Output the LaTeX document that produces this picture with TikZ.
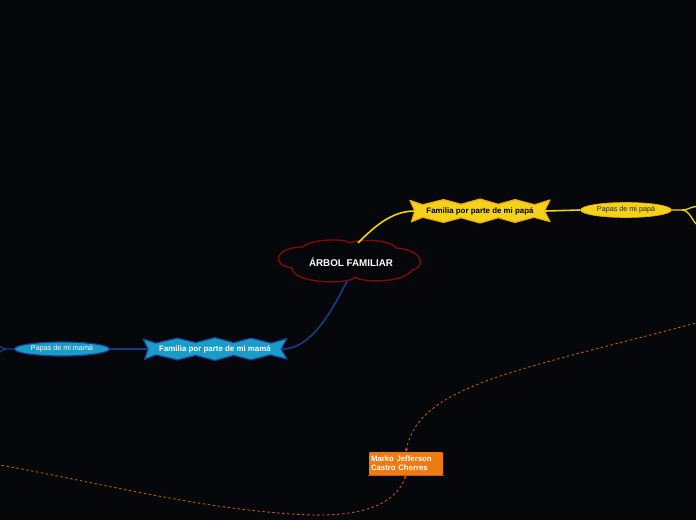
\documentclass[tikz,border=0pt]{standalone}
\usepackage{fontspec}
\setmainfont{Liberation Sans}
\usetikzlibrary{shapes.geometric,arrows.meta}
\definecolor{bg}{HTML}{05070A}
\definecolor{cloudred}{HTML}{7E0B0B}
\definecolor{yfill}{HTML}{F2D21A}
\definecolor{yedge}{HTML}{F0A812}
\definecolor{yline}{HTML}{F2D40C}
\definecolor{bfill}{HTML}{1A9CC8}
\definecolor{bedge}{HTML}{1E3C8C}
\definecolor{bline}{HTML}{1C3A88}
\definecolor{ofill}{HTML}{EE7A12}
\definecolor{odark}{HTML}{B85E0C}
% jagged burst: #1 centre, #2 half width, #3 half height, #4 path style
\newcommand\jagshape[4]{%
  \begin{scope}[shift={(#1)}, xscale=#2, yscale=#3]
    \path[#4] (-1,-0.88) -- (-0.82,-0.52) -- (-0.52,-0.95) -- (-0.27,-0.56) -- (0,-1)
      -- (0.26,-0.56) -- (0.5,-0.95) -- (0.78,-0.52) -- (1,-0.92) -- (0.92,0)
      -- (1,0.88) -- (0.77,0.52) -- (0.5,0.95) -- (0.26,0.56) -- (0,1)
      -- (-0.27,0.56) -- (-0.52,0.95) -- (-0.82,0.52) -- (-0.98,0.9) -- (-0.93,0) -- cycle;
  \end{scope}}
\begin{document}
\begin{tikzpicture}[x=1pt,y=-1pt,
  ytxt/.style={rectangle, inner sep=0pt, minimum width=130pt, minimum height=24pt, text=black, font=\bfseries\fontsize{7.9}{9}\selectfont},
  btxt/.style={rectangle, inner sep=0pt, minimum width=134pt, minimum height=22pt, text=white, font=\bfseries\fontsize{7.9}{9}\selectfont},
  yburst/.style={fill=yfill, draw=yedge, line width=1.2pt, line join=round},
  bburst/.style={fill=bfill, draw=bedge, line width=1.2pt, line join=round},
  yell/.style={ellipse, fill=yfill, draw=yedge, line width=0.6pt, inner sep=0pt, minimum width=91pt, minimum height=15pt, text=black!85, font=\fontsize{7.2}{8}\selectfont},
  bell/.style={ellipse, fill=bfill, draw=bedge, line width=1.2pt, inner sep=0pt, minimum width=95pt, minimum height=14pt, text=white, font=\fontsize{7.2}{8}\selectfont},
  ycon/.style={draw=yline, line width=1.6pt},
  bcon/.style={draw=bline, line width=1.6pt},
  rel/.style={draw=odark, line width=0.9pt, dash pattern=on 2.5pt off 2.5pt},
  cloudline/.style={draw=cloudred, line width=1.4pt, fill=bg},
]
\fill[bg] (0,0) rectangle (696,520);
\useasboundingbox (0,0) rectangle (696,520);

% cloud outline
\coordinate (J1) at (303,247);
\coordinate (J2) at (350,243);
\coordinate (J3) at (396,248);
\coordinate (J4) at (412,270);
\coordinate (J5) at (355,277);
\coordinate (J6) at (292,268);
\path[cloudline] (J1) .. controls (310,239) and (345,238) .. (J2)
  .. controls (356,239) and (391,239) .. (J3)
  .. controls (425,250) and (425,268) .. (J4)
  .. controls (405,283) and (362,283) .. (J5)
  .. controls (350,285) and (292,284) .. (J6)
  .. controls (270,265) and (275,247) .. cycle;

\node[ellipse, inner sep=0pt, minimum width=138pt, minimum height=38pt, text=white,
  font=\bfseries\fontsize{9.8}{11}\selectfont] (root) at (351,262) {ÁRBOL FAMILIAR};

\jagshape{480,211}{70}{12}{yburst}
\node[ytxt] (fp) at (480,211) {Familia por parte de mi papá};
\node[yell] (pp) at (626,210) {Papas de mi papá};
\jagshape{215,349}{72}{11.5}{bburst}
\node[btxt] (fm) at (215,349) {Familia por parte de mi mamá};
\node[bell] (pm) at (62,349) {Papas de mi mamá};

\node[rectangle, rounded corners=1pt, fill=ofill, text=white, align=left, inner sep=0pt,
  minimum width=74pt, minimum height=23pt, text width=70pt,
  font=\bfseries\fontsize{7.8}{9}\selectfont] (mk) at (406,463.5) {Marko Jefferson\\Castro Cherres};
\coordinate (mkl) at ([xshift=-1pt]mk.south west);
\coordinate (mkr) at ([xshift=1pt]mk.south east);
\draw[odark, line width=1.4pt] (mkl) -- (mkr);

\coordinate (ppb) at (682,210);
\coordinate (ppo1) at (696,206.5);
\coordinate (ppo2) at (696,224);
\coordinate (pmb) at (6,349);
\coordinate (pmo1) at (0,346.5);
\coordinate (pmo2) at (0,352);
\coordinate (r1) at (696,323);
\coordinate (r2) at (0,465);
\coordinate (r2m) at (300,514.5);

\draw[ycon] (root.70) .. controls (375,226) and (392,211) .. (fp.west);
\draw[ycon] (fp.east) -- (pp.west);
\draw[ycon, line width=1.3pt] (pp.east) -- (ppb) .. controls (688,210) and (690,207) .. (ppo1);
\draw[ycon, line width=1.3pt] (ppb) .. controls (688,210) and (690,216) .. (ppo2);

\draw[bcon] (root.258) .. controls (330,315) and (310,349) .. (fm.east);
\draw[bcon] (fm.west) -- (pm.east);
\draw[bcon, line width=1.3pt] (pm.west) -- (pmb) .. controls (3,349) and (2,347) .. (pmo1);
\draw[bcon, line width=1.3pt] (pmb) .. controls (3,349) and (2,351) .. (pmo2);

\draw[rel, {Stealth[length=3pt,width=3pt]}-] (mk.north) .. controls (418,385) and (520,370) .. (r1);
\draw[rel, {Stealth[length=3pt,width=3pt]}-] (mk.south) .. controls (396,505) and (360,518) .. (r2m)
   .. controls (200,509) and (100,483) .. (r2);
\end{tikzpicture}
\end{document}
